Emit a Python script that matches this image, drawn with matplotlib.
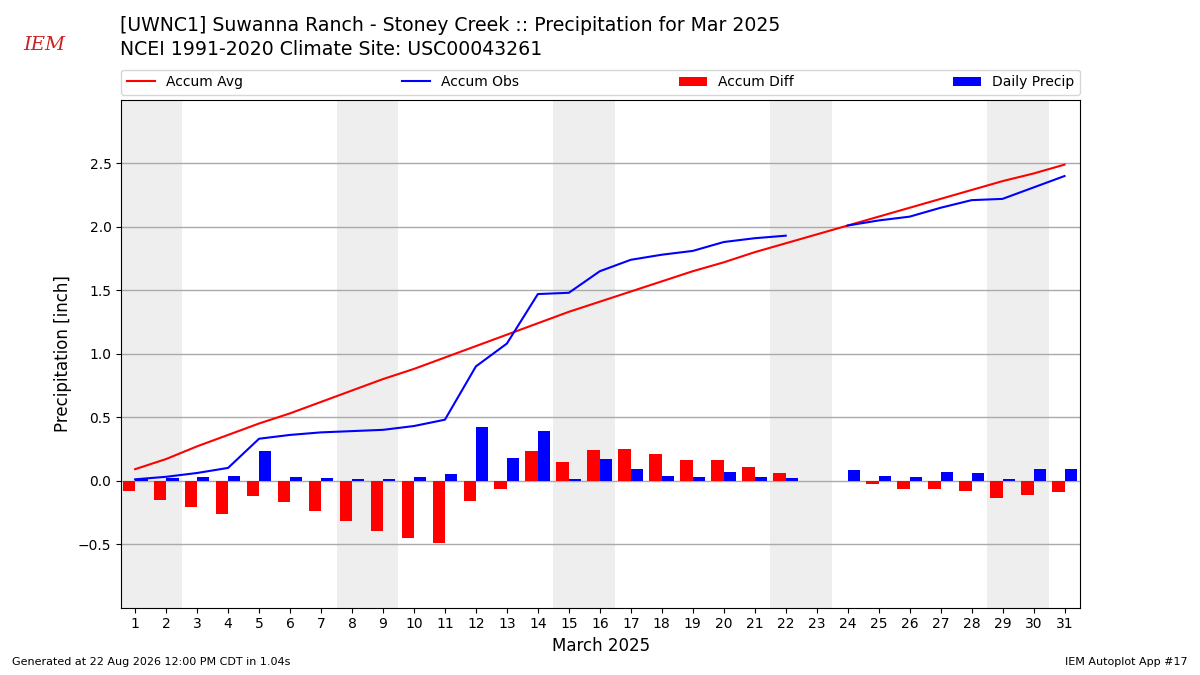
import numpy as np
import matplotlib
matplotlib.use("Agg")
import matplotlib.pyplot as plt

days = list(range(1, 32))
# daily precip (nan = missing)
daily = [0.01, 0.02, 0.03, 0.04, 0.23, 0.03, 0.02, 0.01, 0.01, 0.03,
         0.05, 0.42, 0.18, 0.39, 0.01, 0.17, 0.09, 0.04, 0.03, 0.07,
         0.03, 0.02, np.nan, 0.08, 0.04, 0.03, 0.07, 0.06, 0.01, 0.09, 0.09]
accum_obs = [0.01, 0.03, 0.06, 0.10, 0.33, 0.36, 0.38, 0.39, 0.40, 0.43,
             0.48, 0.90, 1.08, 1.47, 1.48, 1.65, 1.74, 1.78, 1.81, 1.88,
             1.91, 1.93, np.nan, 2.01, 2.05, 2.08, 2.15, 2.21, 2.22, 2.31, 2.40]
accum_avg = [0.09, 0.17, 0.27, 0.36, 0.45, 0.53, 0.62, 0.71, 0.80, 0.88,
             0.97, 1.06, 1.15, 1.24, 1.33, 1.41, 1.49, 1.57, 1.65, 1.72,
             1.80, 1.87, 1.94, 2.01, 2.08, 2.15, 2.22, 2.29, 2.36, 2.42, 2.49]
accum_diff = [-0.08, -0.15, -0.21, -0.26, -0.12, -0.17, -0.24, -0.32, -0.40, -0.45,
              -0.49, -0.16, -0.07, 0.23, 0.15, 0.24, 0.25, 0.21, 0.16, 0.16,
              0.11, 0.06, np.nan, 0.0, -0.03, -0.07, -0.07, -0.08, -0.14, -0.11, -0.09]
weekends = [(0.5, 2.5), (7.5, 9.5), (14.5, 16.5), (21.5, 23.5), (28.5, 30.5)]

fig = plt.figure(figsize=(12, 6.75), dpi=100)
ax = fig.add_axes([0.101, 0.1, 0.799, 0.752])

for lo, hi in weekends:
    ax.axvspan(lo, hi, color="#eeeeee", zorder=0, lw=0)

ax.plot(days, accum_avg, color="red", lw=1.5, label="Accum Avg", zorder=3)
ax.plot(days, accum_obs, color="blue", lw=1.5, label="Accum Obs", zorder=3)
ax.bar(days, accum_diff, width=-0.4, align="edge", color="red", label="Accum Diff", zorder=2)
ax.bar(days, daily, width=0.4, align="edge", color="blue", label="Daily Precip", zorder=2)

ax.set_xlim(0.55, 31.5)
ax.set_ylim(-1, 3)
ax.set_yticks([-0.5, 0, 0.5, 1.0, 1.5, 2.0, 2.5])
ax.set_xticks(days)
ax.tick_params(labelsize=10)
ax.grid(axis="y", color="#aaaaaa", lw=1, zorder=1)
ax.set_axisbelow(True)
ax.set_xlabel("March 2025", fontsize=12)
ax.set_ylabel("Precipitation [inch]", fontsize=12)

ax.legend(loc="lower left", bbox_to_anchor=(0, 1.01, 1, 0.05), ncol=4,
          mode="expand", fontsize=10, borderaxespad=0)

fig.text(0.1, 0.962, "[UWNC1] Suwanna Ranch - Stoney Creek :: Precipitation for Mar 2025",
         fontsize=13.6, va="center")
fig.text(0.1, 0.927, "NCEI 1991-2020 Climate Site: USC00043261",
         fontsize=13.6, va="center")
fig.text(0.037, 0.933, "IEM", color="#cc2222", fontsize=14, family="serif",
         style="italic", ha="center", va="center")

fig.text(0.01, 0.015, "Generated at 22 Aug 2026 12:00 PM CDT in 1.04s", fontsize=8)
fig.text(0.99, 0.015, "IEM Autoplot App #17", fontsize=8, ha="right")

fig.savefig("out.png", dpi=100)
